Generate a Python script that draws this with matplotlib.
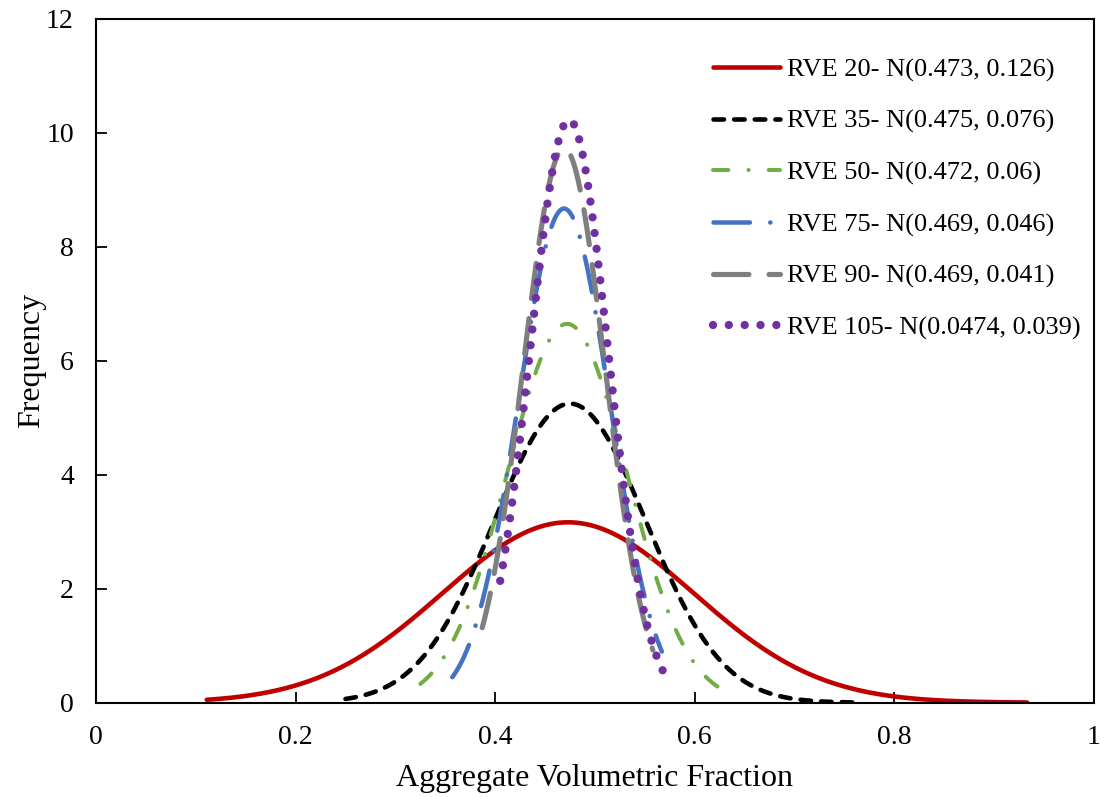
import numpy as np
import matplotlib
matplotlib.use("Agg")
import matplotlib.pyplot as plt

# Fitted normal distributions of aggregate volumetric fraction per RVE size
labels = [
    "RVE 20- N(0.473, 0.126)",
    "RVE 35- N(0.475, 0.076)",
    "RVE 50- N(0.472, 0.06)",
    "RVE 75- N(0.469, 0.046)",
    "RVE 90- N(0.469, 0.041)",
    "RVE 105- N(0.0474, 0.039)",
]
means = [0.473, 0.475, 0.472, 0.469, 0.469, 0.474]
sds = [0.126, 0.076, 0.060, 0.046, 0.041, 0.039]
# sampled range of each curve
x_start = [0.111, 0.250, 0.325, 0.357, 0.387, 0.405]
x_end = [0.933, 0.763, 0.638, 0.567, 0.558, 0.570]

x_ticks = [0, 0.2, 0.4, 0.6, 0.8, 1]
x_tick_labels = ["0", "0.2", "0.4", "0.6", "0.8", "1"]
y_ticks = [0, 2, 4, 6, 8, 10, 12]

colors = ["#C00000", "#000000", "#70AD47", "#4472C4", "#7F7F7F", "#7030A0"]
widths = [3.3, 3.3, 2.9, 3.24, 3.7, 6.0]
dash_patterns = [
    None,
    (2.3, 2.2),
    (3.8, 5.0, 0.05, 5.0),
    (8.1, 4.5, 0.05, 4.5),
    (6.9, 3.9),
    (0.001, 1.9),
]

plt.rcParams["font.family"] = ["Liberation Serif", "DejaVu Serif"]

fig = plt.figure(figsize=(11.05, 7.98), dpi=100)
ax = fig.add_axes([96 / 1105, 1 - 702.7 / 798, (1094 - 96) / 1105, (702.7 - 19) / 798])


def normal_pdf(x, mu, sigma):
    return np.exp(-0.5 * ((x - mu) / sigma) ** 2) / (sigma * np.sqrt(2 * np.pi))


for lab, mu, sd, x0, x1, c, lw, dp in zip(labels, means, sds, x_start, x_end,
                                           colors, widths, dash_patterns):
    x = np.linspace(x0, x1, 600)
    y = normal_pdf(x, mu, sd)
    line, = ax.plot(x, y, color=c, lw=lw, label=lab,
                    solid_capstyle="round", dash_capstyle="round")
    if dp is not None:
        line.set_dashes(dp)

ax.set_xlim(0, 1)
ax.set_ylim(0, 12)
ax.set_xticks(x_ticks)
ax.set_xticklabels(x_tick_labels)
ax.set_yticks(y_ticks)
ax.tick_params(axis="both", direction="in", length=8, width=1.3,
               labelsize=20, pad=16, colors="black")
for s in ax.spines.values():
    s.set_linewidth(1.5)
    s.set_color("black")

ax.set_xlabel("Aggregate Volumetric Fraction", fontsize=23, labelpad=10)
ax.set_ylabel("Frequency", fontsize=23, labelpad=0)

leg = ax.legend(loc="upper left", bbox_to_anchor=(713 / 1105, 1 - 58 / 798),
                bbox_transform=fig.transFigure, frameon=False, fontsize=19,
                handlelength=2.55, handletextpad=0.25, labelspacing=1.05,
                borderpad=0, borderaxespad=0)

fig.savefig("out.png", dpi=100)
